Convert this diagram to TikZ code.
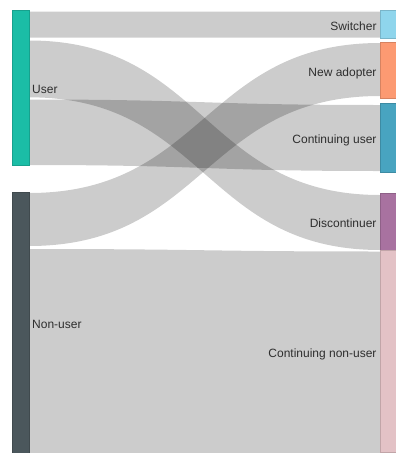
\documentclass[tikz,border=0pt]{standalone}
\usepackage{fontspec}
\setmainfont{Liberation Sans}
\definecolor{userc}{HTML}{1BBDA6}
\definecolor{nonuserc}{HTML}{4B575C}
\definecolor{switchc}{HTML}{8FD5EC}
\definecolor{adoptc}{HTML}{FC9A72}
\definecolor{contuc}{HTML}{48A4C0}
\definecolor{discc}{HTML}{A872A0}
\definecolor{contnc}{HTML}{E3C2C6}
\definecolor{labc}{HTML}{2E2E2E}
\newcommand\flowband[4]{\fill[flow] (#1) .. controls (#1 -| mid) and (#2 -| mid) .. (#2) -- (#3) .. controls (#3 -| mid) and (#4 -| mid) .. (#4) -- cycle;}
\begin{document}
\begin{tikzpicture}[x=1pt,y=-1pt,
  flow/.style={fill=black,fill opacity=0.2},
  bar/.style={rectangle,draw=#1!85!black,fill=#1,line width=0.5pt,inner sep=0pt,outer sep=0pt},
  lab/.style={font=\fontsize{12}{14}\selectfont,text=labc,inner sep=0pt}]
\useasboundingbox (0,0) rectangle (396,453);
\coordinate (mid) at (204.5,0);
% flow end points
\coordinate (a1) at (29,11.5);  \coordinate (b1) at (380,11.5);
\coordinate (c1) at (380,37.5); \coordinate (d1) at (29,37.5);
\coordinate (a2) at (29,40.5);  \coordinate (b2) at (380,195);
\coordinate (c2) at (380,250);  \coordinate (d2) at (29,97.3);
\coordinate (a3) at (29,99.5);  \coordinate (b3) at (380,105);
\coordinate (c3) at (380,171);  \coordinate (d3) at (29,165);
\coordinate (a4) at (29,193);   \coordinate (b4) at (380,43);
\coordinate (c4) at (380,96);   \coordinate (d4) at (29,246);
\coordinate (a5) at (29,249);   \coordinate (b5) at (380,251.5);
\coordinate (c5) at (380,454);  \coordinate (d5) at (29,454);
\flowband{a1}{b1}{c1}{d1}
\flowband{a2}{b2}{c2}{d2}
\flowband{a3}{b3}{c3}{d3}
\flowband{a4}{b4}{c4}{d4}
\flowband{a5}{b5}{c5}{d5}
% nodes
\node[bar=userc,minimum width=17pt,minimum height=154.5pt] (user) at (20.5,87.75) {};
\node[bar=nonuserc,minimum width=17pt,minimum height=261pt] (nonuser) at (20.5,323) {};
\node[bar=switchc,minimum width=16pt,minimum height=27.5pt] (switcher) at (388,24.25) {};
\node[bar=adoptc,minimum width=16pt,minimum height=55.5pt] (adopter) at (388,70.25) {};
\node[bar=contuc,minimum width=16pt,minimum height=69pt] (contuser) at (388,138) {};
\node[bar=discc,minimum width=16pt,minimum height=57pt] (discont) at (388,222) {};
\node[bar=contnc,minimum width=16pt,minimum height=202pt] (contnon) at (388,351.5) {};
% labels
\node[lab,anchor=base west] (luser) at ([xshift=3pt,yshift=-5.8pt]user.east) {User};
\node[lab,anchor=base west] (lnonuser) at ([xshift=3pt,yshift=-5.8pt]nonuser.east) {Non-user};
\node[lab,anchor=base east] (lswitch) at ([xshift=-3.3pt,yshift=-5.8pt]switcher.west) {Switcher};
\node[lab,anchor=base east] (ladopt) at ([xshift=-3.3pt,yshift=-5.8pt]adopter.west) {New adopter};
\node[lab,anchor=base east] (lcontu) at ([xshift=-3.3pt,yshift=-5.8pt]contuser.west) {Continuing user};
\node[lab,anchor=base east] (ldisc) at ([xshift=-3.3pt,yshift=-5.8pt]discont.west) {Discontinuer};
\node[lab,anchor=base east] (lcontn) at ([xshift=-3.3pt,yshift=-5.8pt]contnon.west) {Continuing non-user};
\end{tikzpicture}
\end{document}
